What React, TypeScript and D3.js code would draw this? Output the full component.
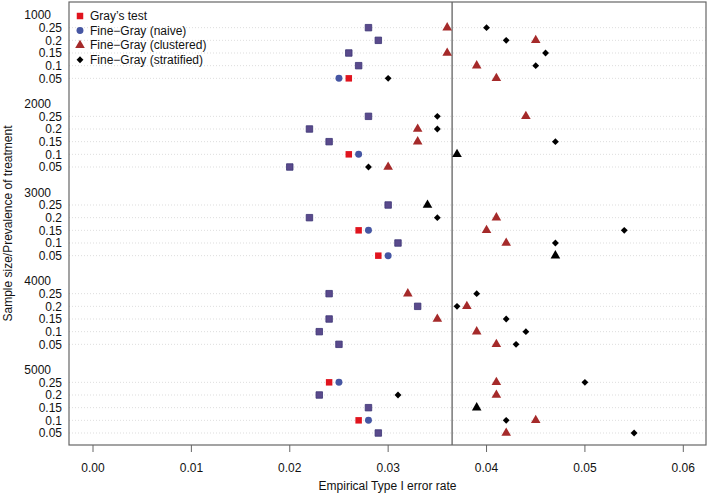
import * as d3 from "d3";

// sample sizes and treatment prevalences (rows inside each group, top to bottom)
const sizes = ["1000", "2000", "3000", "4000", "5000"];
const prevalences = ["0.25", "0.2", "0.15", "0.1", "0.05"];

// empirical type I error rate, one array per group, rows in prevalence order
const grayTest = [
  [0.028, 0.029, 0.026, 0.027, 0.026],
  [0.028, 0.022, 0.024, 0.026, 0.02],
  [0.03, 0.022, 0.027, 0.031, 0.029],
  [0.024, 0.033, 0.024, 0.023, 0.025],
  [0.024, 0.023, 0.028, 0.027, 0.029],
];
const fgNaive = [
  [0.028, 0.029, 0.026, 0.027, 0.025],
  [0.028, 0.022, 0.024, 0.027, 0.02],
  [0.03, 0.022, 0.028, 0.031, 0.03],
  [0.024, 0.033, 0.024, 0.023, 0.025],
  [0.025, 0.023, 0.028, 0.028, 0.029],
];
const fgClustered = [
  [0.036, 0.045, 0.036, 0.039, 0.041],
  [0.044, 0.033, 0.033, 0.037, 0.03],
  [0.034, 0.041, 0.04, 0.042, 0.047],
  [0.032, 0.038, 0.035, 0.039, 0.041],
  [0.041, 0.041, 0.039, 0.045, 0.042],
];
const fgStratified = [
  [0.04, 0.042, 0.046, 0.045, 0.03],
  [0.035, 0.035, 0.047, 0.037, 0.028],
  [0.034, 0.035, 0.054, 0.047, 0.047],
  [0.039, 0.037, 0.042, 0.044, 0.043],
  [0.05, 0.031, 0.039, 0.042, 0.055],
];
const xTicks = [0, 0.01, 0.02, 0.03, 0.04, 0.05, 0.06];
const nominalLimit = 0.0365;

const legendItems = [
  "Gray’s test",
  "Fine−Gray (naive)",
  "Fine−Gray (clustered)",
  "Fine−Gray (stratified)",
];

const W = 709;
const H = 494;
const box = { left: 69, right: 706, top: 2, bottom: 445 };
const FONT = "'Liberation Sans', Arial, Helvetica, sans-serif";

const RED = "#e0141e";
const BLUE = "#4656a3";
const PURPLE = "#5a4a8c";
const BROWN = "#a52a2a";

// slots: group header + 5 rows + blank gap
const slots: string[] = [];
sizes.forEach((s, g) => {
  slots.push(`h${s}`);
  prevalences.forEach((p) => slots.push(`${s}-${p}`));
  if (g < sizes.length - 1) slots.push(`gap${s}`);
});

const x = d3.scaleLinear().domain([0, 0.06]).range([93, 683.3]);
const y = d3.scalePoint<string>().domain(slots).range([15, 433]);

const squarePath = d3.symbol(d3.symbolSquare, 42)()!;
const circlePath = d3.symbol(d3.symbolCircle, 38)()!;
const trianglePath = d3.symbol(d3.symbolTriangle, 40)()!;
const diamondPath = d3.symbol(d3.symbolDiamond2, 30)()!;

function Marker({ path, cx, cy, fill, stroke }: { path: string; cx: number; cy: number; fill: string; stroke?: string }) {
  return (
    <path
      d={path}
      transform={`translate(${cx},${cy})`}
      fill={fill}
      stroke={stroke ?? "none"}
      strokeWidth={stroke ? 0.8 : 0}
    />
  );
}

export default function App() {
  const rows = sizes.flatMap((s, g) =>
    prevalences.map((p, r) => ({
      key: `${s}-${p}`,
      gray: grayTest[g][r],
      naive: fgNaive[g][r],
      clus: fgClustered[g][r],
      strat: fgStratified[g][r],
    }))
  );

  return (
    <svg width={W} height={H} style={{ position: "absolute", left: 0, top: 0, background: "#fff" }} fontFamily={FONT}>
      {/* dotted grid */}
      {rows.map((d) => (
        <line
          key={`g${d.key}`}
          x1={box.left}
          x2={box.right}
          y1={y(d.key)}
          y2={y(d.key)}
          stroke="#d4d4d4"
          strokeWidth={0.8}
          strokeDasharray="1 2"
        />
      ))}

      {/* nominal limit */}
      <line x1={x(nominalLimit)} x2={x(nominalLimit)} y1={box.top} y2={box.bottom} stroke="#555" strokeWidth={1.2} />

      {/* markers */}
      {rows.map((d) => {
        const cy = y(d.key)!;
        const same = d.gray === d.naive;
        const sameFG = d.clus === d.strat;
        return (
          <g key={`m${d.key}`}>
            {same ? (
              <Marker path={squarePath} cx={x(d.gray)} cy={cy} fill={PURPLE} stroke="#3b3575" />
            ) : (
              <>
                <Marker path={squarePath} cx={x(d.gray)} cy={cy} fill={RED} />
                <Marker path={circlePath} cx={x(d.naive)} cy={cy} fill={BLUE} />
              </>
            )}
            {sameFG ? (
              <Marker path={trianglePath} cx={x(d.clus)} cy={cy} fill="#000" />
            ) : (
              <>
                <Marker path={trianglePath} cx={x(d.clus)} cy={cy} fill={BROWN} />
                <Marker path={diamondPath} cx={x(d.strat)} cy={cy} fill="#000" />
              </>
            )}
          </g>
        );
      })}

      {/* box */}
      <rect
        x={box.left}
        y={box.top}
        width={box.right - box.left}
        height={box.bottom - box.top}
        fill="none"
        stroke="#666"
        strokeWidth={1.2}
      />

      {/* y labels */}
      {sizes.map((s) => (
        <text key={`h${s}`} x={51} y={y(`h${s}`)} dy="0.35em" textAnchor="end" fontSize={12} fill="#111">
          {s}
        </text>
      ))}
      {rows.map((d) => (
        <text key={`l${d.key}`} x={62} y={y(d.key)} dy="0.35em" textAnchor="end" fontSize={12} fill="#111">
          {d.key.split("-")[1]}
        </text>
      ))}
      <text
        transform={`translate(12,${(box.top + box.bottom) / 2}) rotate(-90)`}
        textAnchor="middle"
        fontSize={12}
        fill="#111"
      >
        Sample size/Prevalence of treatment
      </text>

      {/* x axis */}
      {xTicks.map((t) => (
        <g key={`t${t}`}>
          <line x1={x(t)} x2={x(t)} y1={box.bottom} y2={box.bottom + 7} stroke="#666" strokeWidth={1} />
          <text x={x(t)} y={468} dy="0.35em" textAnchor="middle" fontSize={12} fill="#111">
            {t.toFixed(2)}
          </text>
        </g>
      ))}
      <text x={(box.left + box.right) / 2} y={486} dy="0.35em" textAnchor="middle" fontSize={12} fill="#111">
        Empirical Type I error rate
      </text>

      {/* legend */}
      {legendItems.map((label, i) => {
        const ly = 16 + i * 14.6;
        const path = [squarePath, circlePath, trianglePath, diamondPath][i];
        const fill = [RED, BLUE, BROWN, "#000"][i];
        return (
          <g key={label}>
            <Marker path={path} cx={80} cy={ly} fill={fill} />
            <text x={90} y={ly} dy="0.35em" fontSize={12} fill="#111">
              {label}
            </text>
          </g>
        );
      })}
    </svg>
  );
}
